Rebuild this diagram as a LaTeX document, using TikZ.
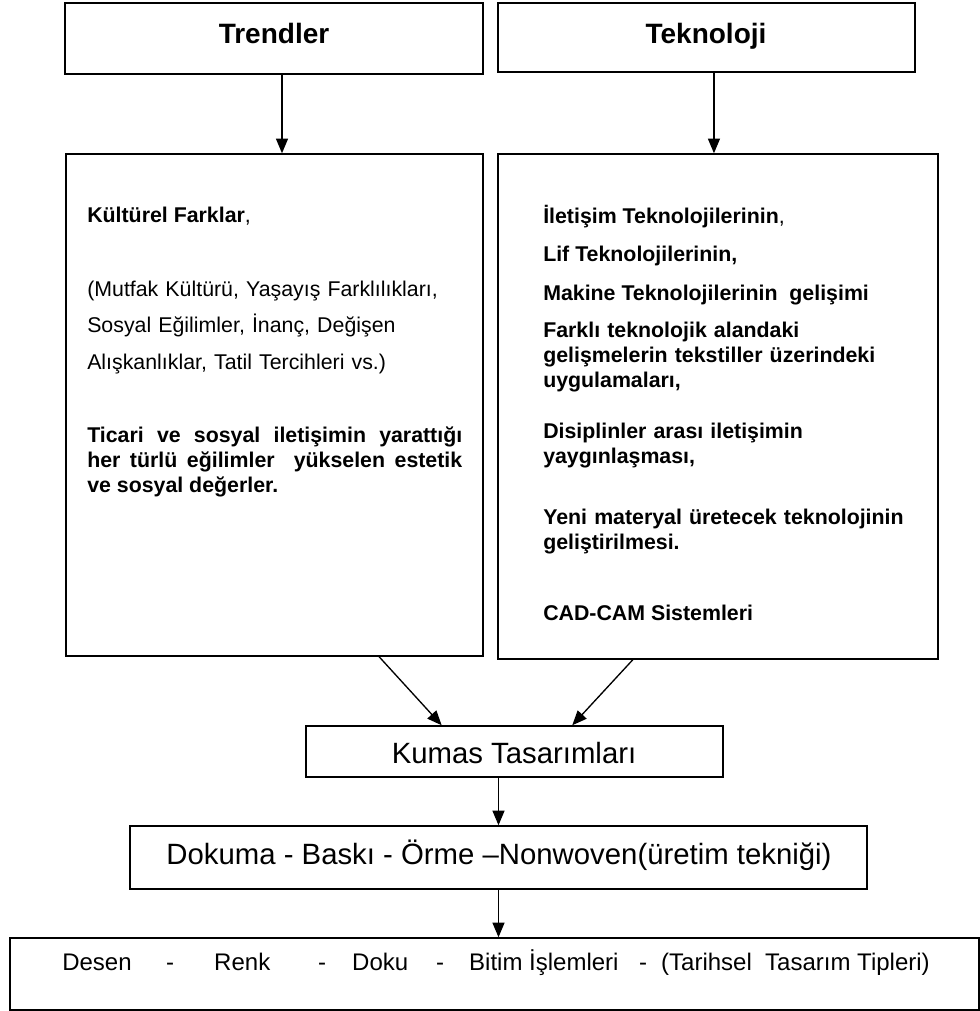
\documentclass[tikz,border=0pt]{standalone}
\usepackage{fontspec}
\setmainfont{Liberation Sans}
\usetikzlibrary{calc,fit,arrows.meta}
\tikzset{
	box/.style={draw, line width=1.1pt, inner sep=0pt},
	arr/.style={line width=1pt, -{Triangle[length=11pt, width=9pt]}},
	title/.style={anchor=base, inner sep=0pt, font=\fontsize{21}{25}\selectfont\bfseries},
	flowtext/.style={anchor=base, inner sep=0pt, font=\fontsize{22}{26}\selectfont},
	bodytext/.style={anchor=base west, inner sep=0pt, font=\fontsize{16}{18.75}\selectfont\bfseries},
	plaintext/.style={anchor=base west, inner sep=0pt, font=\fontsize{16}{27.4}\selectfont},
}

\begin{document}
\begin{tikzpicture}[x=0.75pt, y=-0.75pt]
		%%%%% START %%%%%
		\useasboundingbox (0,0) rectangle (980,1011);
		
		\node[box, fit={(65,3) (483,74)}] (trend) {};
		\node[title] (trendtxt) at (274,43) {Trendler};
		\node[box, fit={(498,3) (915,72)}] (tekno) {};
		\node[title] (teknotxt) at (706,43) {Teknoloji};
		
		\node[box, fit={(66,154) (483,656)}] (culture) {};
		\node[box, fit={(498,154) (938,659)}] (techbox) {};
		
		\node[bodytext] (kultur) at (87,222) {Kültürel Farklar\mdseries,};
		\node[plaintext, text width=300pt, align=left] (mutfak) at (87,296) {(Mutfak Kültürü, Yaşayış Farklılıkları,\\ Sosyal Eğilimler, İnanç, Değişen\\ Alışkanlıklar, Tatil Tercihleri vs.)};
		\node[bodytext, text width=281.25pt, align=justify] (ticari) at (87,442) {Ticari ve sosyal iletişimin yarattığı\linebreak her türlü eğilimler \ yükselen estetik\linebreak ve sosyal değerler.};
		
		\node[bodytext] (iletisim) at (543,223) {İletişim Teknolojilerinin\mdseries,};
		\node[bodytext] (lif) at (543,261) {Lif Teknolojilerinin,};
		\node[bodytext] (makine) at (543,300) {Makine Teknolojilerinin \ gelişimi};
		\node[bodytext, text width=300pt, align=left] (farkli) at (543,337) {Farklı teknolojik alandaki\\ gelişmelerin tekstiller üzerindeki\\ uygulamaları,};
		\node[bodytext, text width=300pt, align=left] (disiplin) at (543,438) {Disiplinler arası iletişimin\\ yaygınlaşması,};
		\node[bodytext, text width=300pt, align=left] (yeni) at (543,524) {Yeni materyal üretecek teknolojinin\\ geliştirilmesi.};
		\node[bodytext] (cadcam) at (543,620) {CAD-CAM Sistemleri};
		
		\node[box, fit={(306,726) (723,777)}] (kumas) {};
		\node[flowtext] (kumastxt) at (514,763) {Kumas Tasarımları};
		\node[box, fit={(130,826) (867,889)}] (dokuma) {};
		\node[flowtext] (dokumatxt) at (499,864) {Dokuma - Baskı - Örme –Nonwoven(üretim tekniği)};
		\node[box, fit={(10,938) (979,1010)}] (desen) {};
		\node[anchor=base west, inner sep=0pt, font=\fontsize{18}{22}\selectfont] (desentxt) at (62,970) {\makebox[78pt][l]{Desen}\makebox[36pt][l]{-}\makebox[78pt][l]{Renk}\makebox[25.5pt][l]{-}\makebox[63pt][l]{Doku}\makebox[24.75pt][l]{-}\makebox[127.5pt][l]{Bitim İşlemleri}\makebox[16.5pt][l]{-}(Tarihsel \ Tasarım Tipleri)};
		
		\coordinate (trendout) at ([xshift=6pt]trend.south);
		\draw[arr] (trendout) -- (trendout |- culture.north);
		\coordinate (teknoout) at ([xshift=5.6pt]tekno.south);
		\draw[arr] (teknoout) -- (teknoout |- techbox.north);
		
		\draw[arr] ($(culture.south west)!0.75!(culture.south east)$) -- ($(kumas.north west)!0.326!(kumas.north east)$);
		\draw[arr] ($(techbox.south west)!0.307!(techbox.south east)$) -- ($(kumas.north west)!0.638!(kumas.north east)$);
		\draw[arr] (kumas.south -| dokuma.north) -- (dokuma.north);
		\draw[arr] (dokuma.south) -- (dokuma.south |- desen.north);
		
		%%%%% END %%%%%
	\end{tikzpicture}
\end{document}
